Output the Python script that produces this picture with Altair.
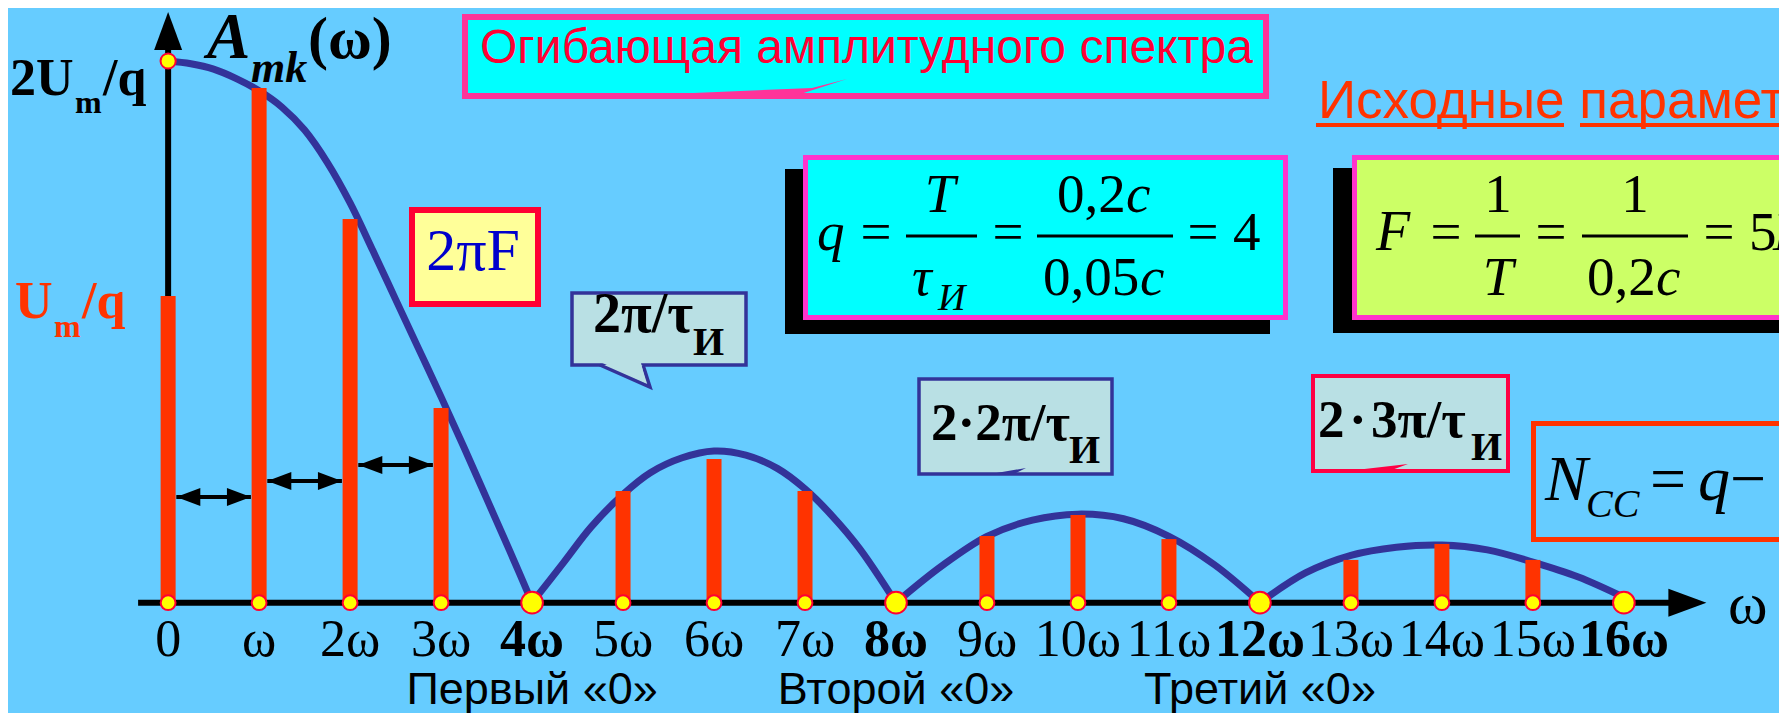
import altair as alt
import pandas as pd

# ------------------------------------------------------------------ data
harmonic = list(range(17))
amplitude = [1.132, 1.900, 1.417, 0.719, 0.0, 0.412, 0.531, 0.412, 0.0,
             0.246, 0.324, 0.235, 0.0, 0.158, 0.217, 0.158, 0.0]
tick_label = ["0", "ω", "2ω", "3ω", "4ω", "5ω", "6ω", "7ω", "8ω", "9ω",
              "10ω", "11ω", "12ω", "13ω", "14ω", "15ω", "16ω"]

# envelope
lobe1_k = [0.0, 0.25, 0.5, 0.75, 1.0, 1.25, 1.5, 1.75, 2.0, 2.25, 2.5, 2.75, 3.0, 3.25, 3.5, 3.75, 4.0]
lobe1_v = [2.000, 1.990, 1.970, 1.935, 1.890, 1.830, 1.745, 1.625, 1.476, 1.300, 1.120, 0.940,
           0.760, 0.575, 0.385, 0.195, 0.0]
lobe2_k = [4.0, 4.35, 4.65, 5.0, 5.3, 5.65, 6.0, 6.35, 6.7, 7.0, 7.3, 7.6, 8.0]
lobe2_v = [0.0, 0.150, 0.280, 0.400, 0.480, 0.535, 0.560, 0.545, 0.495, 0.420, 0.320, 0.200, 0.0]
lobe3_k = [8.0, 8.5, 9.0, 9.5, 10.0, 10.5, 11.0, 11.5, 12.0]
lobe3_v = [0.0, 0.135, 0.245, 0.305, 0.327, 0.310, 0.245, 0.140, 0.0]
lobe4_k = [12.0, 12.5, 13.0, 13.5, 14.0, 14.5, 15.0, 15.5, 16.0]
lobe4_v = [0.0, 0.110, 0.175, 0.205, 0.213, 0.195, 0.150, 0.095, 0.020]

zero_k = [4, 8, 12]
zero_name = ["Первый «0»", "Второй «0»", "Третий «0»"]

spacing_k = [0, 1, 2]
spacing_v = [0.390, 0.449, 0.508]

# ------------------------------------------------------------------ setup
SERIF = "Liberation Serif, Times New Roman, serif"
SANS = "Liberation Sans, Arial, sans-serif"
BG = "#66ccff"
OFF = 8
W, H = 1771, 705

XS = alt.Scale(domain=[-1.705, 17.650], nice=False, zero=False)
YS = alt.Scale(domain=[-0.4072, 2.1957], nice=False, zero=False)

spec = pd.DataFrame({"k": harmonic, "amp": amplitude, "lab": tick_label})
env = pd.concat([
    pd.DataFrame({"k": lobe1_k, "v": lobe1_v, "lobe": 1}),
    pd.DataFrame({"k": lobe2_k, "v": lobe2_v, "lobe": 2}),
    pd.DataFrame({"k": lobe3_k, "v": lobe3_v, "lobe": 3}),
    pd.DataFrame({"k": lobe4_k, "v": lobe4_v, "lobe": 4}),
], ignore_index=True)
zeros = pd.DataFrame({"k": zero_k, "name": zero_name})
spacing = pd.DataFrame({"k": spacing_k, "v": spacing_v})


def one():
    return alt.Data(values=[{"o": 0}])


def X(f):
    return alt.X(f, type="quantitative", scale=XS, axis=None)


def Y(f):
    return alt.Y(f, type="quantitative", scale=YS, axis=None)


def txt(text, x, y, size, color="black", font=SERIF, weight="normal",
        style="normal", align="left"):
    return alt.Chart(one()).mark_text(
        text=text, font=font, fontSize=size, fontWeight=weight, fontStyle=style,
        color=color, align=align, baseline="alphabetic", clip=True
    ).encode(x=alt.value(x - OFF), y=alt.value(y - OFF))


def box(x1, y1, x2, y2, fill, stroke=None, sw=0):
    kw = dict(fill=fill, opacity=1, clip=True)
    if stroke:
        kw.update(stroke=stroke, strokeWidth=sw)
    else:
        kw.update(strokeWidth=0)
    return alt.Chart(one()).mark_rect(**kw).encode(
        x=alt.value(x1 - OFF), x2=alt.value(x2 - OFF),
        y=alt.value(y1 - OFF), y2=alt.value(y2 - OFF))


def poly(path, x, y, fill, stroke=None, sw=0):
    kw = dict(shape=path, size=4, filled=True, fill=fill, opacity=1)
    if stroke:
        kw.update(stroke=stroke, strokeWidth=sw)
    else:
        kw.update(strokeWidth=0)
    return alt.Chart(one()).mark_point(**kw).encode(
        x=alt.value(x - OFF), y=alt.value(y - OFF))


def hline(x1, x2, y, w=3, color="black"):
    return alt.Chart(one()).mark_rule(color=color, strokeWidth=w).encode(
        x=alt.value(x1 - OFF), x2=alt.value(x2 - OFF), y=alt.value(y - OFF))


layers = []

# ------------------------------------------------------------------ axes
layers.append(alt.Chart(one()).mark_rule(color="black", strokeWidth=6).encode(
    x=alt.XDatum(0, type="quantitative", scale=XS, axis=None),
    y=alt.YDatum(0, type="quantitative", scale=YS, axis=None),
    y2=alt.Y2Datum(2.05)))
layers.append(alt.Chart(one()).mark_rule(color="black", strokeWidth=6).encode(
    x=alt.XDatum(-0.33, type="quantitative", scale=XS, axis=None),
    x2=alt.X2Datum(16.5),
    y=alt.YDatum(0, type="quantitative", scale=YS, axis=None)))
layers.append(alt.Chart(one()).mark_point(
    shape="M0,0L-0.737,2L0.737,2Z", size=1444, filled=True, color="black", opacity=1).encode(
    x=alt.XDatum(0, type="quantitative", scale=XS, axis=None),
    y=alt.YDatum(2.181, type="quantitative", scale=YS, axis=None)))
layers.append(alt.Chart(one()).mark_point(
    shape="M0,0L-2,-0.737L-2,0.737Z", size=1444, filled=True, color="black", opacity=1).encode(
    x=alt.XDatum(16.907, type="quantitative", scale=XS, axis=None),
    y=alt.YDatum(0, type="quantitative", scale=YS, axis=None)))

# ------------------------------------------------------------------ envelope
layers.append(alt.Chart(env).mark_line(
    color="#333399", strokeWidth=7, interpolate="catmull-rom",
    strokeCap="round", strokeJoin="round").encode(
    x=X("k"), y=Y("v"), detail="lobe:N", order="k:Q"))

# ------------------------------------------------------------------ spectral lines
layers.append(alt.Chart(spec).transform_filter("datum.amp > 0").transform_calculate(
    base="0").mark_bar(width=15, color="#ff3300").encode(
    x=X("k"), y=Y("amp"), y2="base:Q"))

# spacing arrows
sp = alt.Chart(spacing).transform_calculate(a="datum.k + 0.09", b="datum.k + 0.91")
layers.append(sp.mark_rule(color="black", strokeWidth=4).encode(x=X("a"), x2="b:Q", y=Y("v")))
layers.append(sp.mark_point(shape="M0,0L2,-0.75L2,0.75Z", size=576, filled=True,
                            color="black", opacity=1).encode(x=X("a"), y=Y("v")))
layers.append(sp.mark_point(shape="M0,0L-2,-0.75L-2,0.75Z", size=576, filled=True,
                            color="black", opacity=1).encode(x=X("b"), y=Y("v")))

# dots on the axis
layers.append(alt.Chart(spec).mark_point(
    shape="circle", filled=True, fill="#ffff00", stroke="#ff0033", strokeWidth=2,
    opacity=1).encode(
    x=X("k"), y=alt.value(594.7),
    size=alt.condition("datum.amp == 0 && datum.k > 0", alt.value(470), alt.value(220))))
layers.append(alt.Chart(env).transform_filter("datum.k == 0").mark_point(
    shape="circle", filled=True, fill="#ffff00", stroke="#ff0033", strokeWidth=2,
    opacity=1, size=230).encode(x=X("k"), y=Y("v")))

# tick labels
layers.append(alt.Chart(spec).transform_filter("!(datum.amp == 0 && datum.k > 0)").mark_text(
    font=SERIF, fontSize=52, color="black", baseline="alphabetic", align="center").encode(
    x=X("k"), y=alt.value(656 - OFF), text="lab:N"))
layers.append(alt.Chart(spec).transform_filter("datum.amp == 0 && datum.k > 0").mark_text(
    font=SERIF, fontSize=52, fontWeight="bold", color="black", baseline="alphabetic",
    align="center").encode(x=X("k"), y=alt.value(656 - OFF), text="lab:N"))
layers.append(txt("ω", 1728, 623, 60))

# zero captions
layers.append(alt.Chart(zeros).mark_text(
    font=SANS, fontSize=45, color="black", baseline="alphabetic", align="center").encode(
    x=X("k"), y=alt.value(704 - OFF), text="name:N"))

# ------------------------------------------------------------------ axis titles
layers += [
    txt("A", 207, 58, 65, weight="bold", style="italic"),
    txt("mk", 251, 82, 44, weight="bold", style="italic"),
    txt("(ω)", 308, 58, 60, weight="bold"),
    txt("2U", 10, 95, 52, weight="bold"),
    txt("m", 75, 113, 32, weight="bold"),
    txt("/q", 103, 95, 52, weight="bold"),
    txt("U", 15, 318, 52, color="#ff3300", weight="bold"),
    txt("m", 54, 337, 32, color="#ff3300", weight="bold"),
    txt("/q", 82, 318, 52, color="#ff3300", weight="bold"),
]

# ------------------------------------------------------------------ callouts
# envelope callout
layers += [
    box(465, 17, 1266, 96, "#00ffff", "#ff3399", 6),
    poly("M0,0L212,-9L247,-18L185,2Z", 600, 97, "#ff3399"),
    txt("Огибающая амплитудного спектра", 480, 63, 48, color="#ff0033", font=SANS),
]

# title of parameters
layers += [
    txt("Исходные параметры", 1318, 118, 53, color="#ff3300", font=SANS),
    box(1316, 123, 1564, 127, "#ff3300"),
    box(1580, 123, 1790, 127, "#ff3300"),
]

# 2πF
layers += [
    box(412, 210, 538, 304, "#ffff99", "#ff0033", 6),
    txt("2πF", 473, 270, 60, color="#0000cc", align="center"),
]

# 2π/τИ
LB = "#b9e0e4"
layers += [
    box(572, 293, 746, 365, LB, "#333399", 3.5),
    poly("M0,0L50,22L43,0", 600, 365, LB, "#333399", 3.5),
    poly("M2.5,-2L46,18L41,-2Z", 600, 365, LB),
    txt("2π/τ", 593, 332, 56, weight="bold"),
    txt("И", 693, 355, 40, weight="bold"),
]

# 2·2π/τИ
layers += [
    box(919, 379, 1112, 474, LB, "#333399", 3.5),
    poly("M0,0L41,-7L27,0Z", 985, 475, "#333399"),
    txt("2·2π/τ", 931, 440, 53, weight="bold"),
    txt("И", 1069, 463, 40, weight="bold"),
]

# 2·3π/τИ
layers += [
    box(1313, 376, 1508, 471, LB, "#ff0044", 4),
    poly("M0,0L61,-7L42,0Z", 1347, 471, "#ff0044"),
    txt("2\u200a·\u200a3π/τ", 1318, 437, 53, weight="bold"),
    txt("И", 1471, 460, 40, weight="bold"),
]

# q formula box
layers += [
    box(785, 169, 1270, 334, "black"),
    box(805.5, 157.5, 1285.5, 317.5, "#00ffff", "#ff33cc", 5),
    txt("q", 817, 250, 55, style="italic"),
    txt("=", 876, 250, 55, align="center"),
    hline(906, 977, 236),
    txt("T", 940, 212, 55, style="italic", align="center"),
    txt("τ", 912, 295, 55, style="italic"),
    txt("И", 938, 310, 38, style="italic"),
    txt("=", 1008, 250, 55, align="center"),
    hline(1037, 1173, 236),
    txt("0,2", 1057, 212, 55),
    txt("c", 1126, 212, 55, style="italic"),
    txt("0,05", 1043, 295, 55),
    txt("c", 1140, 295, 55, style="italic"),
    txt("=", 1203, 250, 55, align="center"),
    txt("4", 1233, 250, 55),
]

# F formula box
layers += [
    box(1333, 168, 1790, 333, "black"),
    box(1354.5, 157.5, 1800, 317.5, "#ccff66", "#ff33cc", 5),
    txt("F", 1376, 250, 56, style="italic"),
    txt("=", 1446, 250, 55, align="center"),
    hline(1475, 1520, 236),
    txt("1", 1498, 212, 55, align="center"),
    txt("T", 1498, 295, 55, style="italic", align="center"),
    txt("=", 1551, 250, 55, align="center"),
    hline(1582, 1688, 236),
    txt("1", 1635, 212, 55, align="center"),
    txt("0,2", 1587, 295, 55),
    txt("c", 1656, 295, 55, style="italic"),
    txt("=", 1719, 250, 55, align="center"),
    txt("5", 1749, 250, 55),
    txt("Гц", 1773, 250, 55, style="italic"),
]

# N_CC box
layers += [
    box(1533.5, 423.5, 1800, 539.5, BG, "#ff3300", 5),
    txt("N", 1545, 500, 64, style="italic"),
    txt("CC", 1586, 517, 40, style="italic"),
    txt("=", 1668, 500, 64, align="center"),
    txt("q", 1698, 500, 64, style="italic"),
    txt("−", 1748, 500, 64, align="center"),
    txt("1", 1774, 500, 64),
]

chart = alt.layer(*layers).properties(
    width=W, height=H,
    autosize=alt.AutoSizeParams(type="none"),
    padding=0,
    background=BG,
).configure_view(strokeWidth=0)

chart.save("out.html", embed_options={"renderer": "svg", "actions": False})
